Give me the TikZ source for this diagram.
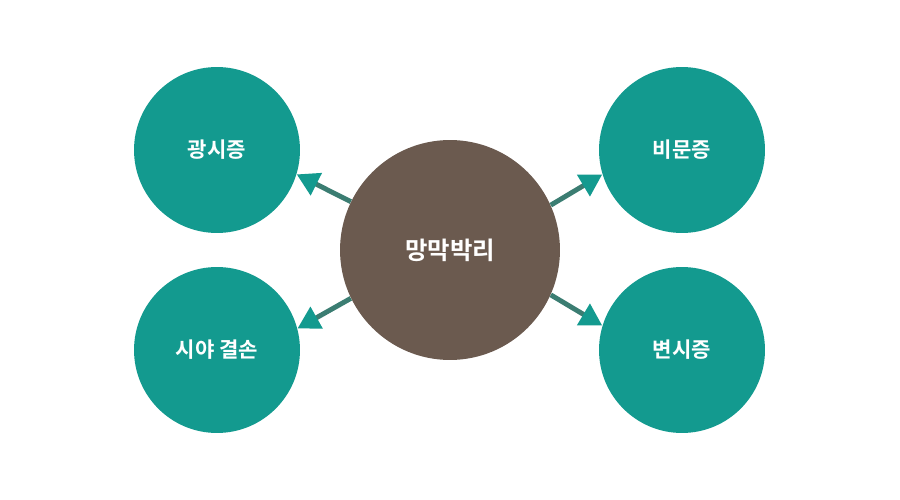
\documentclass[tikz,border=0pt]{standalone}
\usepackage{fontspec}
\newfontfamily\kor{Noto Sans CJK KR}[BoldFont={Noto Sans CJK KR Bold}]
\usetikzlibrary{arrows.meta}
\definecolor{tealc}{HTML}{139A8F}
\definecolor{brownc}{HTML}{6B5A4F}

\begin{document}
\begin{tikzpicture}[
    x=0.02cm, y=-0.02cm,
    symptom/.style={circle, fill=tealc, minimum size=3.32cm, inner sep=0pt,
                    text=white, font=\kor\bfseries\fontsize{12}{14}\selectfont},
    cause/.style={circle, fill=brownc, minimum size=4.4cm, inner sep=0pt,
                  text=white, font=\kor\bfseries\fontsize{13.9}{16}\selectfont},
    link/.style={draw=tealc!55!brownc, line width=2.8pt,
                 -{Triangle[length=0.44cm, width=0.48cm, color=tealc]}}
  ]
  \useasboundingbox (0,0) rectangle (900,500);
  \node[cause] (main) at (450,250) {망막박리};
  \node[symptom] (photo) at (217,150) {광시증};
  \node[symptom] (field) at (217,350) {시야 결손};
  \node[symptom] (floater) at (682,150) {비문증};
  \node[symptom] (meta) at (682,350) {변시증};
  % arrows out of the center
  \draw[link] (main.154) -- (photo.343);
  \draw[link] (main.206) -- (field.15);
  \draw[link] (main.24) -- (floater.197);
  \draw[link] (main.336) -- (meta.163);
\end{tikzpicture}
\end{document}
